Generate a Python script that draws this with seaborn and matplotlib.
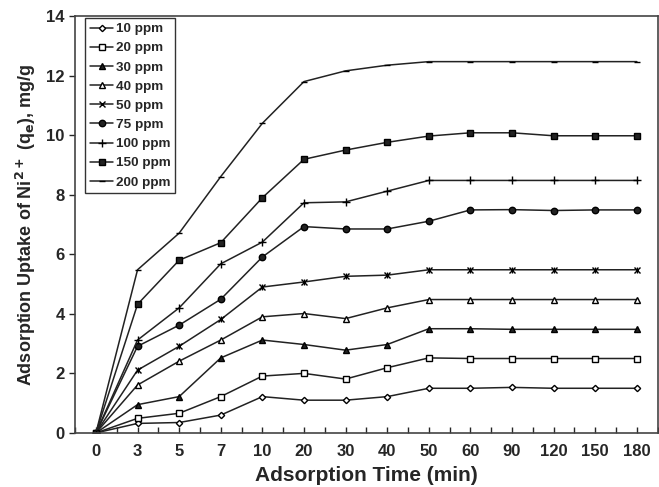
import numpy as np
import pandas as pd
import matplotlib
matplotlib.use("Agg")
import matplotlib.pyplot as plt
import seaborn as sns

# adsorption time (min), plotted as equally spaced categories
times = ["0", "3", "5", "7", "10", "20", "30", "40", "50", "60", "90", "120", "150", "180"]

ppm10 = [0, 0.32, 0.35, 0.60, 1.22, 1.10, 1.10, 1.22, 1.50, 1.50, 1.53, 1.50, 1.50, 1.50]
ppm20 = [0, 0.49, 0.66, 1.22, 1.91, 2.00, 1.81, 2.19, 2.52, 2.50, 2.50, 2.50, 2.50, 2.50]
ppm30 = [0, 0.95, 1.22, 2.52, 3.12, 2.97, 2.78, 2.97, 3.50, 3.50, 3.48, 3.48, 3.48, 3.48]
ppm40 = [0, 1.61, 2.41, 3.12, 3.90, 4.01, 3.84, 4.20, 4.48, 4.48, 4.48, 4.48, 4.48, 4.48]
ppm50 = [0, 2.11, 2.91, 3.81, 4.90, 5.07, 5.26, 5.30, 5.48, 5.48, 5.48, 5.48, 5.48, 5.48]
ppm75 = [0, 2.91, 3.62, 4.49, 5.91, 6.93, 6.85, 6.85, 7.11, 7.49, 7.50, 7.47, 7.49, 7.49]
ppm100 = [0, 3.12, 4.20, 5.68, 6.41, 7.73, 7.76, 8.12, 8.48, 8.48, 8.48, 8.48, 8.48, 8.48]
ppm150 = [0, 4.32, 5.80, 6.39, 7.90, 9.19, 9.50, 9.76, 9.97, 10.08, 10.08, 9.98, 9.98, 9.98]
ppm200 = [0, 5.48, 6.71, 8.61, 10.40, 11.80, 12.16, 12.35, 12.47, 12.47, 12.47, 12.47, 12.47, 12.47]

labels = ["10 ppm", "20 ppm", "30 ppm", "40 ppm", "50 ppm", "75 ppm", "100 ppm", "150 ppm", "200 ppm"]
series = [ppm10, ppm20, ppm30, ppm40, ppm50, ppm75, ppm100, ppm150, ppm200]

# marker, size, filled
styles = [
    ("D", 3.2, False),
    ("s", 4.3, False),
    ("^", 4.8, True),
    ("^", 4.8, False),
    ("x", 4.3, True),
    ("o", 4.6, True),
    ("+", 6, True),
    ("s", 5, True),
    ("_", 5, True),
]

sns.set_style("ticks")
plt.rcParams["font.family"] = ["Liberation Sans", "DejaVu Sans"]
plt.rcParams["font.weight"] = "bold"
plt.rcParams["mathtext.default"] = "bf"

fig = plt.figure(figsize=(6.59, 4.87), dpi=100)
ax = fig.add_axes([0.114, 0.111, 0.884, 0.856])

x = np.arange(len(times))
line_col = "#222222"
for lab, vals, (mk, ms, filled) in zip(labels, series, styles):
    sns.lineplot(x=x, y=vals, ax=ax, color=line_col, linewidth=1.1,
                 marker=mk, markersize=ms,
                 markerfacecolor=line_col if filled else "white",
                 markeredgecolor="black", markeredgewidth=1.0,
                 label=lab)
# asterisk for 50 ppm: add a vertical bar over the x marker
ax.plot(x, ppm50, linestyle="none", marker="|", markersize=4.3,
        color="black", markeredgewidth=1.0)

ax.set_xlim(-0.5, len(times) - 0.5)
ax.set_ylim(0, 14)
ax.set_xticks(x)
ax.set_xticklabels(times)
ax.set_xticks(np.arange(-0.5, len(times), 1.0), minor=True)
ax.set_yticks(np.arange(0, 15, 2))

ax.tick_params(axis="x", which="both", direction="in", length=4, width=1.0,
               labelsize=12, pad=8)
ax.tick_params(axis="y", direction="out", length=4, width=1.0, labelsize=12)
for t in ax.get_xticklabels() + ax.get_yticklabels():
    t.set_fontweight("bold")

for sp in ax.spines.values():
    sp.set_color("#444444")
    sp.set_linewidth(1.2)

ax.set_xlabel("Adsorption Time (min)", fontsize=15, fontweight="bold", labelpad=5)
ax.set_ylabel("Adsorption Uptake of Ni$^{2+}$ (q$_e$), mg/g", fontsize=13,
              fontweight="bold", labelpad=6)

leg = ax.legend(loc="upper left", bbox_to_anchor=(0.017, 0.995), fontsize=9.7,
                frameon=True, fancybox=False, edgecolor="black",
                handlelength=1.75, labelspacing=0.5, borderpad=0.35,
                handletextpad=0.2, borderaxespad=0.0)
leg.get_frame().set_linewidth(1.0)
for t in leg.get_texts():
    t.set_fontweight("bold")

fig.savefig("out.png", dpi=100)
